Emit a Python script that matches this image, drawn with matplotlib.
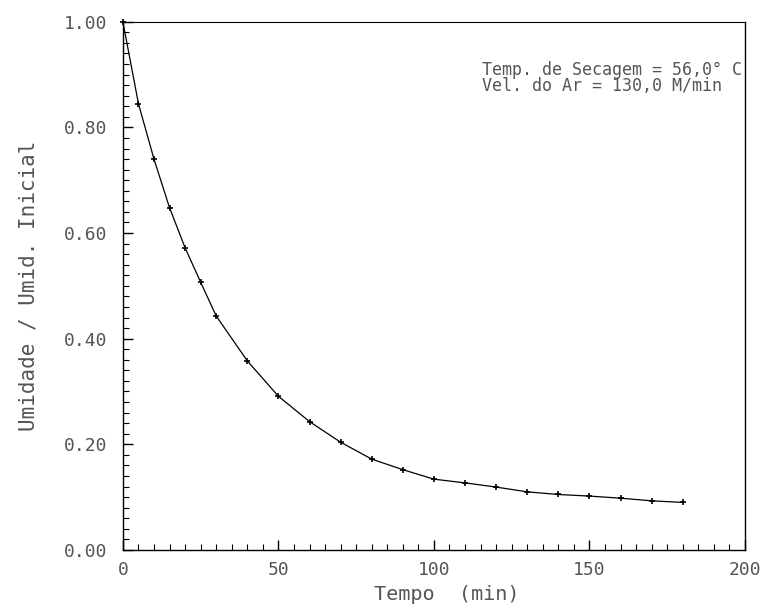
import matplotlib
matplotlib.use("Agg")
import matplotlib.pyplot as plt
from matplotlib.ticker import MultipleLocator, FormatStrFormatter

# Secagem: tempo (min) x umidade relativa
tempo = [0, 5, 10, 15, 20, 25, 30, 40, 50, 60, 70, 80, 90, 100,
         110, 120, 130, 140, 150, 160, 170, 180]
umidade = [1.00, 0.845, 0.740, 0.648, 0.572, 0.507, 0.443, 0.358, 0.291,
           0.243, 0.204, 0.172, 0.152, 0.134, 0.127, 0.119, 0.110,
           0.105, 0.102, 0.098, 0.093, 0.090]

plt.rcParams['font.family'] = ['DejaVu Sans Mono', 'DejaVu Sans']
txt = "#555555"

fig = plt.figure(figsize=(7.68, 6.05), dpi=100)
ax = fig.add_axes([0.160, 0.091, 0.810, 0.873])

ax.plot(tempo, umidade, color="black", linewidth=0.9, marker="+",
        markersize=5, markeredgewidth=1.2, clip_on=False)

ax.set_xlim(0, 200)
ax.set_ylim(0, 1.0)
ax.xaxis.set_major_locator(MultipleLocator(50))
ax.xaxis.set_minor_locator(MultipleLocator(5))
ax.yaxis.set_major_locator(MultipleLocator(0.2))
ax.yaxis.set_minor_locator(MultipleLocator(0.02))
ax.yaxis.set_major_formatter(FormatStrFormatter("%.2f"))

ax.tick_params(which="both", direction="in", top=False, right=False,
               labelsize=13, labelcolor=txt, color="black")
ax.tick_params(which="major", length=7, width=1.0)
ax.tick_params(axis="y", which="major", pad=11.5)
ax.tick_params(axis="x", which="major", pad=8)
ax.tick_params(which="minor", length=4, width=0.8)
for s in ax.spines.values():
    s.set_linewidth(1.0)
ax.spines["top"].set_linewidth(0.8)

ax.set_xlabel("Tempo  (min)", fontsize=14.5, color=txt)
ax.xaxis.set_label_coords(0.52, -0.066, transform=ax.transAxes)
ax.xaxis.label.set_va("top")
ax.set_ylabel("Umidade / Umid. Inicial", fontsize=15, color=txt,
              labelpad=18)

ax.text(0.577, 0.926, "Temp. de Secagem = 56,0° C\nVel. do Ar = 130,0 M/min",
        transform=ax.transAxes, fontsize=12, color=txt,
        va="top", ha="left", linespacing=0.85)

fig.savefig("out.png", dpi=100)
